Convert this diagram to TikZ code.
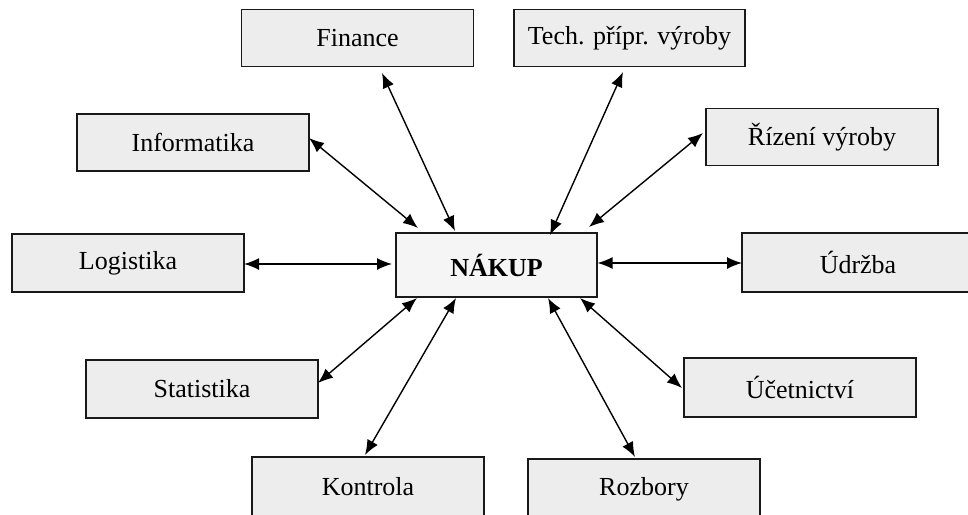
\documentclass[tikz,border=0pt]{standalone}
\usepackage{fontspec}
\setmainfont{Liberation Serif}
\usetikzlibrary{calc,arrows.meta}
\begin{document}
\begin{tikzpicture}[x=1pt,y=-1pt,
 box/.style={draw=black!90,line width=1.9pt,fill=black!7,minimum width=232pt,minimum height=57pt,inner sep=0pt,font=\fontsize{26}{30}\selectfont},
 mainbox/.style={box,fill=black!4,minimum width=201pt,minimum height=64pt,font=\fontsize{26}{30}\selectfont\bfseries},
 link/.style={{Latex[length=15pt,width=12pt]}-{Latex[length=15pt,width=12pt]},line width=1.4pt}]
\useasboundingbox (0,0) rectangle (968,514);
\clip (0,0) rectangle (968,514);
\node[mainbox] (nak) at (496.5,265) {NÁKUP};
\node[box] (fin) at (357.5,38) {Finance};
\node[box,minimum width=231pt] (tech) at (629.5,38) {Tech. přípr. výroby};
\node[box] (inf) at (193,142.5) {Informatika};
\node[box] (riz) at (822,137) {Řízení výroby};
\node[box,minimum height=58pt] (log) at (128,263) {Logistika};
\node[box,minimum height=59pt] (udr) at (858,262.5) {Údržba};
\node[box,minimum height=58pt] (sta) at (202,389) {Statistika};
\node[box,minimum height=59pt] (uce) at (800,387.5) {Účetnictví};
\node[box,minimum height=60pt] (kon) at (368,487) {Kontrola};
\node[box,minimum height=60pt] (roz) at (644,489) {Rozbory};
\draw[link] ($(fin.center)+(24.5,35)$) -- ($(nak.center)+(-41.5,-34)$);
\draw[link] ($(tech.center)+(-6.5,34)$) -- ($(nak.center)+(53.5,-30)$);
\draw[link] ($(inf.center)+(116,-4.5)$) -- ($(nak.center)+(-78.5,-37)$);
\draw[link] ($(riz.center)+(-119,-4)$) -- ($(nak.center)+(92.5,-38)$);
\draw[link] ($(log.center)+(116,1)$) -- ($(nak.center)+(-104.5,-1)$);
\draw[link] ($(udr.center)+(-116,0.5)$) -- ($(nak.center)+(101,-2)$);
\draw[link] ($(sta.center)+(116,-6)$) -- ($(nak.center)+(-79.5,33)$);
\draw[link] ($(kon.center)+(-3,-32)$) -- ($(nak.center)+(-40.5,33)$);
\draw[link] ($(roz.center)+(-9,-32)$) -- ($(nak.center)+(51.5,33)$);
\draw[link] ($(uce.center)+(-118,0.5)$) -- ($(nak.center)+(83.5,33)$);
\end{tikzpicture}
\end{document}
